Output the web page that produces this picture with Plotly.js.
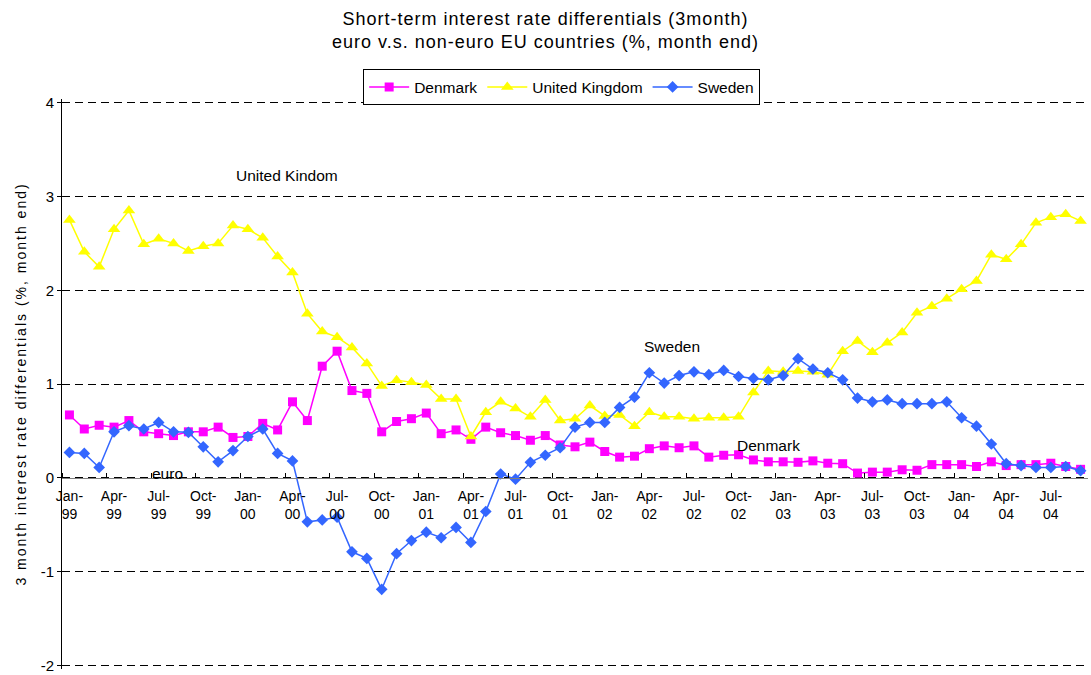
<!DOCTYPE html>
<html>
<head>
<meta charset="utf-8">
<script src="https://cdn.plot.ly/plotly-3.0.1.min.js"></script>
<style>
html,body{margin:0;padding:0;background:#fff;}
#chart{width:1091px;height:675px;}
#chart .ytitle{letter-spacing:2px;}
#chart .gtitle{letter-spacing:1px;}
</style>
</head>
<body>
<div id="chart"></div>
<script>
const months = ['Jan-99','Feb-99','Mar-99','Apr-99','May-99','Jun-99','Jul-99','Aug-99','Sep-99','Oct-99','Nov-99','Dec-99',
'Jan-00','Feb-00','Mar-00','Apr-00','May-00','Jun-00','Jul-00','Aug-00','Sep-00','Oct-00','Nov-00','Dec-00',
'Jan-01','Feb-01','Mar-01','Apr-01','May-01','Jun-01','Jul-01','Aug-01','Sep-01','Oct-01','Nov-01','Dec-01',
'Jan-02','Feb-02','Mar-02','Apr-02','May-02','Jun-02','Jul-02','Aug-02','Sep-02','Oct-02','Nov-02','Dec-02',
'Jan-03','Feb-03','Mar-03','Apr-03','May-03','Jun-03','Jul-03','Aug-03','Sep-03','Oct-03','Nov-03','Dec-03',
'Jan-04','Feb-04','Mar-04','Apr-04','May-04','Jun-04','Jul-04','Aug-04','Sep-04'];

const denmark = [0.67,0.52,0.56,0.54,0.61,0.49,0.47,0.45,0.49,0.49,0.54,0.43,0.44,0.58,0.51,0.81,0.61,1.19,1.35,0.93,0.90,0.49,0.60,0.63,0.69,0.47,0.51,0.41,0.54,0.48,0.45,0.40,0.45,0.35,0.33,0.38,0.28,0.22,0.23,0.31,0.34,0.32,0.34,0.22,0.24,0.245,0.19,0.17,0.17,0.165,0.18,0.155,0.15,0.05,0.06,0.06,0.085,0.08,0.14,0.14,0.14,0.12,0.17,0.13,0.14,0.14,0.155,0.12,0.09];

const unitedKingdom = [2.75,2.41,2.25,2.65,2.85,2.49,2.55,2.50,2.42,2.47,2.50,2.69,2.65,2.56,2.36,2.19,1.75,1.56,1.50,1.39,1.22,0.98,1.04,1.02,0.99,0.84,0.84,0.44,0.70,0.81,0.74,0.65,0.83,0.61,0.63,0.77,0.66,0.67,0.55,0.70,0.65,0.65,0.63,0.64,0.64,0.65,0.91,1.14,1.13,1.14,1.13,1.10,1.35,1.46,1.34,1.44,1.55,1.76,1.83,1.91,2.01,2.10,2.38,2.33,2.49,2.72,2.78,2.81,2.74];

const sweden = [0.27,0.26,0.11,0.49,0.555,0.52,0.59,0.49,0.485,0.33,0.17,0.29,0.44,0.52,0.26,0.18,-0.47,-0.45,-0.42,-0.79,-0.86,-1.19,-0.81,-0.67,-0.58,-0.64,-0.53,-0.69,-0.36,0.04,-0.015,0.165,0.24,0.32,0.54,0.59,0.59,0.75,0.86,1.12,1.01,1.09,1.13,1.10,1.145,1.08,1.06,1.045,1.09,1.27,1.16,1.12,1.045,0.85,0.81,0.83,0.79,0.79,0.79,0.81,0.64,0.55,0.36,0.15,0.13,0.11,0.11,0.12,0.075];

const tickMonths = ['Jan-99','Apr-99','Jul-99','Oct-99','Jan-00','Apr-00','Jul-00','Oct-00','Jan-01','Apr-01','Jul-01','Oct-01',
'Jan-02','Apr-02','Jul-02','Oct-02','Jan-03','Apr-03','Jul-03','Oct-03','Jan-04','Apr-04','Jul-04'];
const tickLabels = ['Jan-<br>99','Apr-<br>99','Jul-<br>99','Oct-<br>99','Jan-<br>00','Apr-<br>00','Jul-<br>00','Oct-<br>00',
'Jan-<br>01','Apr-<br>01','Jul-<br>01','Oct-<br>01','Jan-<br>02','Apr-<br>02','Jul-<br>02','Oct-<br>02',
'Jan-<br>03','Apr-<br>03','Jul-<br>03','Oct-<br>03','Jan-<br>04','Apr-<br>04','Jul-<br>04'];

const yTickVals = [-2, -1, 0, 1, 2, 3, 4];
const yTickText = ['-2', '-1', '0', '1', '2', '3', '4'];

const xIdx = months.map((m, i) => i);
const tickIdx = tickMonths.map(m => months.indexOf(m));
const boundaryIdx = tickIdx.map(i => i - 0.5);

const FONT = 'Liberation Sans, Arial, sans-serif';
const Y_RANGE = [-2.04, 4.04];

const traces = [
  {name: 'Denmark', x: xIdx, y: denmark, type: 'scatter', mode: 'lines+markers',
   line: {color: '#FF00FF', width: 1.5}, marker: {symbol: 'square', size: 9, color: '#FF00FF'}},
  {name: 'United Kingdom', x: xIdx, y: unitedKingdom, type: 'scatter', mode: 'lines+markers',
   line: {color: '#FFFF00', width: 1.5}, marker: {symbol: 'triangle-up', size: 11, color: '#FFFF00'}},
  {name: 'Sweden', x: xIdx, y: sweden, type: 'scatter', mode: 'lines+markers',
   line: {color: '#3366FF', width: 1.5}, marker: {symbol: 'diamond', size: 9, color: '#3366FF'}}
];

const layout = {
  width: 1091, height: 675,
  margin: {l: 62, r: 3, t: 99, b: 6},
  paper_bgcolor: '#fff', plot_bgcolor: '#fff',
  font: {family: FONT, size: 14, color: '#000'},
  title: {text: 'Short-term interest rate differentials (3month)<br>euro v.s. non-euro EU countries (%, month end)',
          font: {family: FONT, size: 18, color: '#000'}, x: 0.5, xref: 'container', xanchor: 'center',
          y: 0.963, yref: 'container', yanchor: 'top'},
  showlegend: true,
  legend: {orientation: 'h', x: 0.487, xanchor: 'center', y: 1.052, yanchor: 'top',
           bordercolor: '#000', borderwidth: 1, bgcolor: '#fff', itemwidth: 40,
           font: {family: FONT, size: 15.5, color: '#000'}, traceorder: 'normal'},
  xaxis: {type: 'linear', range: [-0.5, 68.5], anchor: 'free', position: (0 - Y_RANGE[0]) / (Y_RANGE[1] - Y_RANGE[0]),
          showgrid: false, zeroline: false, showline: true, linecolor: '#808080', linewidth: 1.5,
          tickmode: 'array', tickvals: tickIdx, ticktext: tickLabels, ticks: '',
          ticklabelstandoff: 5,
          tickfont: {family: FONT, size: 14, color: '#000'},
          minor: {tickmode: 'array', tickvals: boundaryIdx, ticks: 'inside', ticklen: 5, tickwidth: 1, tickcolor: '#000', showgrid: false}},
  yaxis: {range: Y_RANGE, tickmode: 'array', tickvals: yTickVals, ticktext: yTickText,
          ticks: 'outside', ticklen: 4, tickcolor: '#000',
          showline: true, linecolor: '#000', linewidth: 1,
          showgrid: true, gridcolor: '#000', gridwidth: 1, griddash: '8px,5px', zeroline: false,
          tickfont: {family: FONT, size: 15, color: '#000'}, automargin: false,
          title: {text: '3 month interest rate differentials (%, month end)', font: {family: FONT, size: 14, color: '#000'}, standoff: 10}},
  annotations: [
    {x: 14.6, y: 3.22, xref: 'x', yref: 'y', text: 'United Kindom', showarrow: false, font: {family: FONT, size: 15.5, color: '#000'}},
    {x: 40.5, y: 1.40, xref: 'x', yref: 'y', text: 'Sweden', showarrow: false, font: {family: FONT, size: 15.5, color: '#000'}},
    {x: 47.0, y: 0.34, xref: 'x', yref: 'y', text: 'Denmark', showarrow: false, font: {family: FONT, size: 15.5, color: '#000'}},
    {x: 6.6, y: 0.05, xref: 'x', yref: 'y', text: 'euro', showarrow: false, font: {family: FONT, size: 15.5, color: '#000'}}
  ]
};

Plotly.newPlot('chart', traces, layout, {displayModeBar: false, staticPlot: true});
</script>
</body>
</html>
